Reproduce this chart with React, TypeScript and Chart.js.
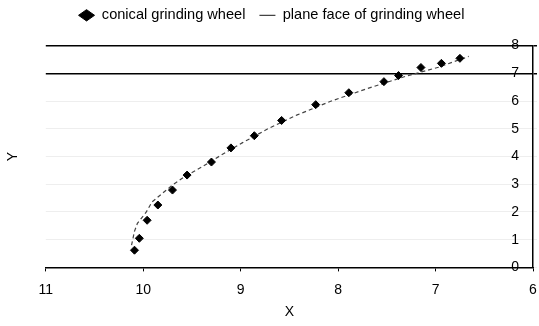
import React, { useEffect, useRef } from "react";
import { Chart, registerables } from "chart.js";

Chart.register(...registerables);

// conical grinding wheel (markers)
const conicalX = [10.09, 10.04, 9.96, 9.85, 9.70, 9.55, 9.30, 9.10, 8.86, 8.58, 8.23, 7.89, 7.53, 7.38, 7.15, 6.94, 6.75];
const conicalY = [0.62, 1.05, 1.70, 2.25, 2.79, 3.33, 3.80, 4.31, 4.75, 5.30, 5.87, 6.30, 6.70, 6.92, 7.21, 7.36, 7.54];

// plane face of grinding wheel (dashed line)
const planeX = [10.12, 10.09, 10.06, 9.97, 9.91, 9.80, 9.70, 9.58, 9.40, 9.20, 8.98, 8.72, 8.42, 8.07, 7.70, 7.30, 6.97, 6.66];
const planeY = [0.80, 1.30, 1.59, 1.99, 2.36, 2.68, 2.97, 3.26, 3.62, 4.05, 4.50, 5.00, 5.50, 6.00, 6.45, 6.90, 7.22, 7.61];

const xTicks = [11, 10, 9, 8, 7, 6];
const yTicks = [0, 1, 2, 3, 4, 5, 6, 7, 8];
const seriesNames = ["conical grinding wheel", "plane face of grinding wheel"];

const legendGap = {
  id: "legendGap",
  afterInit(chart: any) {
    const legend = chart.legend;
    if (!legend) return;
    const orig = legend.fit;
    legend.fit = function () {
      orig.call(this);
      this.height += 13;
    };
  },
};

export default function App() {
  const ref = useRef<HTMLCanvasElement | null>(null);
  useEffect(() => {
    if (!ref.current) return;
    Chart.defaults.font.family = "'Liberation Sans', Arial, sans-serif";
    Chart.defaults.font.size = 14;
    Chart.defaults.color = "#000";
    const chart = new Chart(ref.current, {
      type: "scatter",
      plugins: [legendGap],
      data: {
        datasets: [
          {
            label: seriesNames[0],
            data: conicalX.map((x, i) => ({ x, y: conicalY[i] })),
            pointStyle: "rectRot",
            pointRadius: 4,
            backgroundColor: "#000",
            borderColor: "#000",
            showLine: false,
          },
          {
            label: seriesNames[1],
            data: planeX.map((x, i) => ({ x, y: planeY[i] })),
            pointRadius: 0,
            pointStyle: "line",
            borderColor: "#444",
            backgroundColor: "#444",
            borderWidth: 1.2,
            borderDash: [4, 3],
            showLine: true,
            tension: 0,
          },
        ],
      },
      options: {
        animation: false,
        responsive: true,
        maintainAspectRatio: false,
        layout: { padding: { left: 4, right: 0, top: -6, bottom: 5 } },
        plugins: {
          legend: {
            position: "top",
            labels: {
              usePointStyle: true,
              pointStyleWidth: 16,
              boxHeight: 8,
              padding: 14,
              color: "#000",
              font: { size: 14.6 },
            },
          },
          tooltip: { enabled: false },
        },
        scales: {
          x: {
            type: "linear",
            reverse: true,
            min: 6,
            max: 11,
            afterBuildTicks: (s: any) => {
              s.ticks = xTicks.map((v) => ({ value: v }));
            },
            afterFit: (s: any) => {
              s.paddingRight = 0;
              s.paddingLeft = 0;
            },
            ticks: { padding: 10, color: "#000" },
            grid: { drawOnChartArea: false, drawTicks: true, tickLength: 4, color: "#000" },
            border: { display: true, color: "#000", width: 1.5 },
            title: { display: true, text: "X", padding: { top: -4, bottom: 0 }, color: "#000" },
          },
          y: {
            type: "linear",
            position: "right",
            min: 0,
            max: 8,
            afterBuildTicks: (s: any) => {
              s.ticks = yTicks.map((v) => ({ value: v }));
            },
            afterFit: (s: any) => {
              s.width = 6;
            },
            ticks: { mirror: true, padding: -14, color: "#000" },
            grid: {
              color: (ctx: any) => (ctx.tick && ctx.tick.value >= 7 ? "#000" : "#eeeeee"),
              lineWidth: (ctx: any) => (ctx.tick && ctx.tick.value >= 7 ? 1.5 : 1),
              drawTicks: true,
              tickLength: 4,
            },
            border: { display: true, color: "#000", width: 1.5 },
          },
          yl: {
            type: "linear",
            position: "left",
            min: 0,
            max: 8,
            ticks: { display: false },
            grid: { display: false },
            border: { display: false },
            title: { display: true, text: "Y", color: "#000", padding: { top: 1, bottom: 16 } },
          },
        },
      },
    });
    return () => chart.destroy();
  }, []);
  return (
    <div style={{ position: "fixed", left: 0, top: 0, width: 539, height: 326, background: "#fff" }}>
      <canvas ref={ref} />
    </div>
  );
}
